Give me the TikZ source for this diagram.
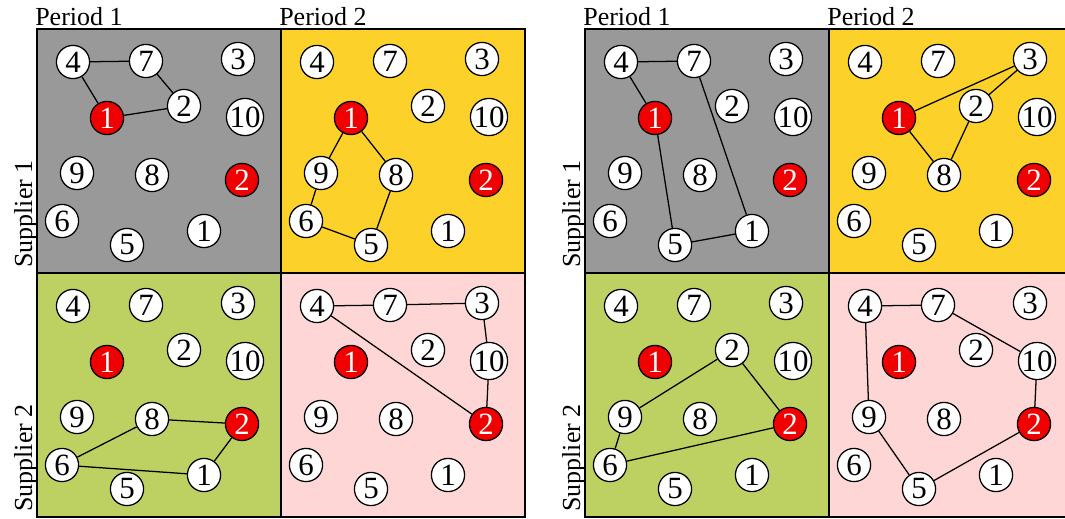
\documentclass[tikz,border=0pt]{standalone}
\usepackage{fontspec}
\setmainfont{Liberation Serif}

\definecolor{cgray}{RGB}{153,153,153}
\definecolor{cyellow}{RGB}{252,209,42}
\definecolor{cgreen}{RGB}{189,209,98}
\definecolor{cpink}{RGB}{255,214,214}
\definecolor{cred}{RGB}{240,0,0}

\tikzset{
  cust/.style={circle, draw, fill=white, line width=0.9pt, inner sep=0pt,
    minimum size=0.83cm, font=\fontsize{22}{22}\selectfont},
  depot/.style={cust, fill=cred, text=white},
  lbl/.style={inner sep=0pt, font=\fontsize{18.5}{18.5}\selectfont},
  route/.style={line width=0.9pt},
}

\newcommand{\cell}[4]{%
  \begin{scope}[shift={(#2,#3)}]
    \filldraw[fill=#4, line width=1pt] (0,0) rectangle (244,244);
    \foreach \n/\x/\y in {4/36/33, 7/109/32, 3/201/30, 2/147/77, 10/208/88,
                          9/40/144, 8/115/146, 6/25/192, 5/90/216, 1/167/202}
      \node[cust] (#1c\n) at (\x,\y) {\n};
    \node[depot] (#1d1) at (70,89) {1};
    \node[depot] (#1d2) at (205,151) {2};
  \end{scope}}

\begin{document}
\begin{tikzpicture}[x=0.025cm, y=-0.025cm]
  \useasboundingbox (0,0) rectangle (1065,519);
  \clip (0,0) rectangle (1065,519);

  \cell{a11}{37}{29}{cgray}
  \cell{a12}{281}{29}{cyellow}
  \cell{a21}{37}{273}{cgreen}
  \cell{a22}{281}{273}{cpink}
  \cell{b11}{585}{29}{cgray}
  \cell{b12}{829}{29}{cyellow}
  \cell{b21}{585}{273}{cgreen}
  \cell{b22}{829}{273}{cpink}

  \draw[route] (a11c4) -- (a11c7) -- (a11c2) -- (a11d1) -- (a11c4);
  \draw[route] (a12d1) -- (a12c9) -- (a12c6) -- (a12c5) -- (a12c8) -- (a12d1);
  \draw[route] (a21d2) -- (a21c8) -- (a21c6) -- (a21c1) -- (a21d2);
  \draw[route] (a22c4) -- (a22c7) -- (a22c3) -- (a22c10) -- (a22d2) -- (a22c4);

  \draw[route] (b11c4) -- (b11c7) -- (b11c1) -- (b11c5) -- (b11d1) -- (b11c4);
  \draw[route] (b12d1) -- (b12c3) -- (b12c2) -- (b12c8) -- (b12d1);
  \draw[route] (b21c2) -- (b21d2) -- (b21c6) -- (b21c9) -- (b21c2);
  \draw[route] (b22c4) -- (b22c7) -- (b22c10) -- (b22d2) -- (b22c5) -- (b22c9) -- (b22c4);

  \foreach \p/\dx in {a/0, b/548} {
    \node[lbl, anchor=base west] (\p per1) at (35+\dx,26) {Period 1};
    \node[lbl, anchor=base west] (\p per2) at (279+\dx,26) {Period 2};
    \node[lbl, rotate=90, anchor=base west] (\p sup1) at (32+\dx,268) {Supplier 1};
    \node[lbl, rotate=90, anchor=base west] (\p sup2) at (32+\dx,512) {Supplier 2};
  }
\end{tikzpicture}
\end{document}
